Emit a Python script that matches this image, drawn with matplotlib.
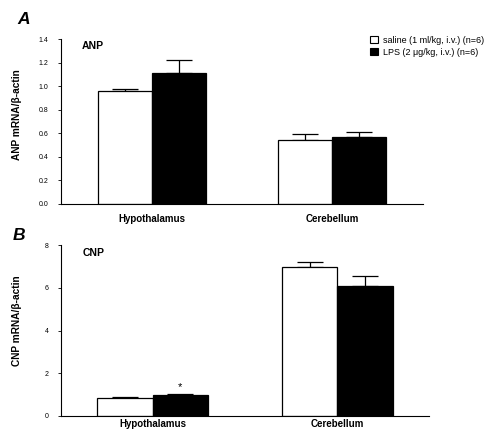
import matplotlib.pyplot as plt
import numpy as np
from matplotlib.patches import Patch

plt.rcParams['font.family'] = ['Liberation Sans', 'DejaVu Sans']

regions = ["Hypothalamus", "Cerebellum"]
series = ["saline (1 ml/kg, i.v.) (n=6)", "LPS (2 \u03bcg/kg, i.v.) (n=6)"]

anp_saline = [0.96, 0.54]
anp_saline_err = [0.02, 0.05]
anp_lps = [1.11, 0.57]
anp_lps_err = [0.11, 0.04]

cnp_saline = [0.86, 6.97]
cnp_saline_err = [0.03, 0.23]
cnp_lps = [0.99, 6.09]
cnp_lps_err = [0.03, 0.44]

anp_ticks = [0.0, 0.2, 0.4, 0.6, 0.8, 1.0, 1.2, 1.4]
cnp_ticks = [0, 2, 4, 6, 8]

fig = plt.figure(figsize=(4.97, 4.30), dpi=100)
axA = fig.add_axes([61 / 497, 1 - 204 / 430, 362 / 497, 165 / 430])
axB = fig.add_axes([61 / 497, 1 - 416 / 430, 368 / 497, 171 / 430])

w = 0.3
x = np.arange(len(regions))


def bar_panel(ax, sal, sal_err, lps, lps_err, ticks, ylabel, name, xlim, xpad, labx, laby):
    for vals, errs, xs, col in [(sal, sal_err, x - w / 2, "white"), (lps, lps_err, x + w / 2, "black")]:
        ax.bar(xs, vals, width=w, color=col, edgecolor="black", linewidth=0.9, zorder=2)
        ax.errorbar(xs, vals, yerr=[np.zeros(len(errs)), errs], fmt="none",
                    ecolor="black", elinewidth=0.9, capsize=9.5, capthick=0.9, zorder=1)
    ax.set_xlim(xlim)
    ax.set_ylim(0, ticks[-1])
    ax.set_yticks(ticks)
    ax.set_yticklabels([f"{t:.1f}" if isinstance(t, float) else str(t) for t in ticks], fontsize=5)
    ax.set_xticks(x)
    ax.set_xticklabels(regions, fontsize=7, fontweight="bold")
    ax.tick_params(axis="x", length=0, pad=xpad)
    ax.tick_params(axis="y", length=2, width=0.6, pad=7)
    for s in ["top", "right"]:
        ax.spines[s].set_visible(False)
    ax.spines["left"].set_linewidth(0.8)
    ax.spines["bottom"].set_linewidth(0.8)
    ax.set_ylabel(ylabel, fontsize=7.3, fontweight="bold")
    ax.yaxis.set_label_coords(labx, laby)
    ax.text(0.058, 0.985, name, transform=ax.transAxes, fontsize=7.5, fontweight="bold", va="top")


bar_panel(axA, anp_saline, anp_saline_err, anp_lps, anp_lps_err, anp_ticks,
          "ANP mRNA/\u03b2-actin", "ANP", (-0.506, 1.506), 7, -0.108, 0.54)
bar_panel(axB, cnp_saline, cnp_saline_err, cnp_lps, cnp_lps_err, cnp_ticks,
          "CNP mRNA/\u03b2-actin", "CNP", (-0.495, 1.495), 2, -0.106, 0.56)

# significance mark over LPS hypothalamus
axB.text(x[0] + w / 2, cnp_lps[0] + cnp_lps_err[0] + 0.1, "*", ha="center", va="bottom", fontsize=8)

fig.text(17 / 497, 1 - 19 / 430, "A", fontsize=12.5, fontweight="bold", fontstyle="italic", va="center")
fig.text(13 / 497, 1 - 236 / 430, "B", fontsize=12.5, fontweight="bold", fontstyle="italic", va="center")

handles = [Patch(facecolor="white", edgecolor="black", linewidth=0.8),
           Patch(facecolor="black", edgecolor="black", linewidth=0.8)]
fig.legend(handles, series, loc="upper left", bbox_to_anchor=(366 / 497, 1 - 32 / 430),
           frameon=False, fontsize=6.5, handlelength=0.9, handleheight=0.8,
           handletextpad=0.6, labelspacing=0.35, borderaxespad=0)

fig.savefig("out.png", dpi=100)
